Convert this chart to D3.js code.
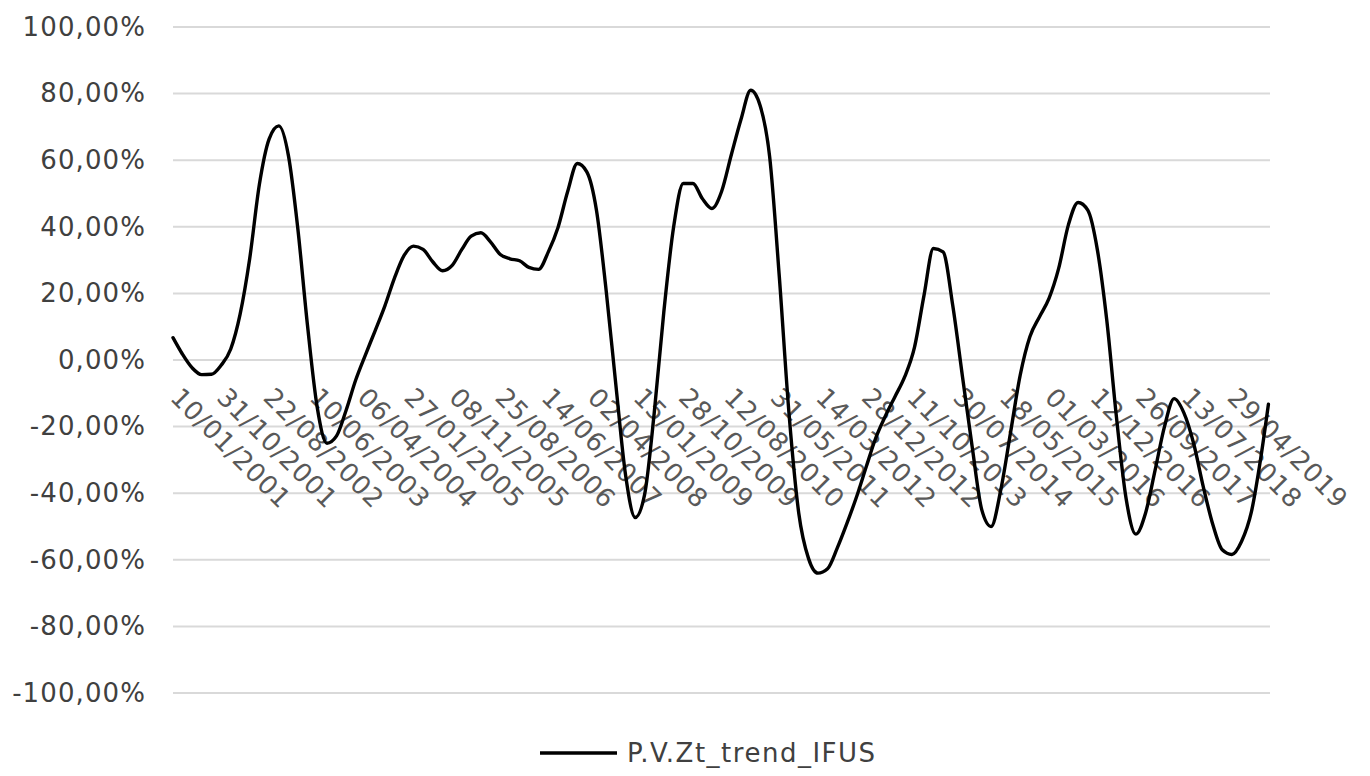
<!DOCTYPE html>
<html>
<head>
<meta charset="utf-8">
<script src="https://cdn.jsdelivr.net/npm/d3@7"></script>
<style>
  html, body { margin: 0; padding: 0; background: #ffffff; }
  svg { display: block; }
  text { font-family: "DejaVu Sans", Verdana, sans-serif; }
</style>
</head>
<body>
<svg id="chart" width="1370" height="776"></svg>
<script>
// ---- data ----
const seriesName = "P.V.Zt_trend_IFUS";

const yTickValues = [-100, -80, -60, -40, -20, 0, 20, 40, 60, 80, 100];

const xLabelDates = [
  "10/01/2001", "31/10/2001", "22/08/2002", "10/06/2003", "06/04/2004",
  "27/01/2005", "08/11/2005", "25/08/2006", "14/06/2007", "02/04/2008",
  "15/01/2009", "28/10/2009", "12/08/2010", "31/05/2011", "14/03/2012",
  "28/12/2012", "11/10/2013", "30/07/2014", "18/05/2015", "01/03/2016",
  "12/12/2016", "26/09/2017", "13/07/2018", "29/04/2019"
];

// trend value (%) by date
const trendSeries = [
  ["2001-01-01", 6.7], ["2001-03-01", 1.8], ["2001-05-01", -2.3], ["2001-07-01", -4.4], ["2001-09-01", -4.3], ["2001-11-01", -1.6],
  ["2002-01-01", 3.3], ["2002-03-01", 13.7], ["2002-05-01", 30.5], ["2002-07-01", 52.7], ["2002-09-01", 66.4], ["2002-11-01", 70.3],
  ["2003-01-01", 61.3], ["2003-03-01", 39.5], ["2003-05-01", 10.5], ["2003-07-01", -14.0], ["2003-09-01", -25.0], ["2003-11-01", -22.8],
  ["2004-01-01", -15.0], ["2004-03-01", -6.0], ["2004-05-01", 1.5], ["2004-07-01", 8.7], ["2004-09-01", 16.2], ["2004-11-01", 24.6],
  ["2005-01-01", 31.4], ["2005-03-01", 34.2], ["2005-05-01", 33.2], ["2005-07-01", 29.5], ["2005-09-01", 26.8], ["2005-11-01", 28.4],
  ["2006-01-01", 33.2], ["2006-03-01", 37.2], ["2006-05-01", 38.2], ["2006-07-01", 35.5], ["2006-09-01", 31.7], ["2006-11-01", 30.4],
  ["2007-01-01", 29.8], ["2007-03-01", 27.8], ["2007-05-01", 27.2], ["2007-07-01", 32.4], ["2007-09-01", 39.8], ["2007-11-01", 50.6],
  ["2008-01-01", 59.0], ["2008-03-01", 56.5], ["2008-05-01", 45.0], ["2008-07-01", 21.0], ["2008-09-01", -7.6], ["2008-11-01", -34.5],
  ["2009-01-01", -47.3], ["2009-03-01", -40.5], ["2009-05-01", -16.0], ["2009-07-01", 14.5], ["2009-09-01", 40.0], ["2009-11-01", 53.0],
  ["2010-01-01", 53.0], ["2010-03-01", 48.5], ["2010-05-01", 45.5], ["2010-07-01", 50.6], ["2010-09-01", 61.7], ["2010-11-01", 72.3],
  ["2011-01-01", 81.0], ["2011-03-01", 76.5], ["2011-05-01", 61.0], ["2011-07-01", 25.0], ["2011-09-01", -16.5], ["2011-11-01", -46.0],
  ["2012-01-01", -59.5], ["2012-03-01", -64.0], ["2012-05-01", -62.7], ["2012-07-01", -56.5], ["2012-09-01", -49.0], ["2012-11-01", -41.0],
  ["2013-01-01", -32.0], ["2013-03-01", -23.5], ["2013-05-01", -16.9], ["2013-07-01", -11.0], ["2013-09-01", -5.0], ["2013-11-01", 3.7],
  ["2014-01-01", 19.5], ["2014-03-01", 33.5], ["2014-05-01", 32.5], ["2014-07-01", 16.5], ["2014-09-01", -5.0], ["2014-11-01", -26.0],
  ["2015-01-01", -45.0], ["2015-03-01", -50.0], ["2015-05-01", -39.0], ["2015-07-01", -22.0], ["2015-09-01", -4.5], ["2015-11-01", 7.0],
  ["2016-01-01", 13.0], ["2016-03-01", 18.5], ["2016-05-01", 27.5], ["2016-07-01", 40.5], ["2016-09-01", 47.3], ["2016-11-01", 45.0],
  ["2017-01-01", 33.0], ["2017-03-01", 12.0], ["2017-05-01", -17.0], ["2017-07-01", -41.5], ["2017-09-01", -52.3], ["2017-11-01", -46.0],
  ["2018-01-01", -33.0], ["2018-03-01", -20.0], ["2018-05-01", -11.6], ["2018-07-01", -15.8], ["2018-09-01", -25.0], ["2018-11-01", -38.0],
  ["2019-01-01", -49.5], ["2019-03-01", -57.0], ["2019-05-01", -58.4], ["2019-07-01", -54.5], ["2019-09-01", -45.7], ["2019-11-01", -29.0],
  ["2019-12-18", -13.3]
];

// ---- layout ----
const svg = d3.select("#chart");
const plotLeft = 173, plotRight = 1270, plotTop = 27, plotBottom = 693;
const textColor = "#404040";
const fontSize = 26;
const fontStack = "'DejaVu Sans', Verdana, sans-serif";

const parseISO = d3.timeParse("%Y-%m-%d");
const parseDMY = d3.timeParse("%d/%m/%Y");

const x = d3.scaleTime()
  .domain([parseISO("2001-01-01"), parseISO("2019-12-28")])
  .range([plotLeft, plotRight]);

const y = d3.scaleLinear()
  .domain([-100, 100])
  .range([plotBottom, plotTop]);

const pctFormat = v => v.toFixed(2).replace(".", ",") + "%";

// horizontal gridlines
svg.append("g")
  .selectAll("line")
  .data(yTickValues)
  .join("line")
  .attr("x1", plotLeft)
  .attr("x2", plotRight)
  .attr("y1", d => y(d))
  .attr("y2", d => y(d))
  .attr("stroke", "#d9d9d9")
  .attr("stroke-width", 2);

// value axis
const yAxis = svg.append("g")
  .attr("transform", `translate(${plotLeft},0)`)
  .call(d3.axisLeft(y).tickValues(yTickValues).tickFormat(pctFormat).tickSize(0).tickPadding(27));
yAxis.select(".domain").remove();
yAxis.selectAll("text")
  .attr("fill", textColor)
  .style("font-size", fontSize + "px")
  .style("letter-spacing", "1.1px")
  .style("font-family", fontStack);

// date axis with 45° labels below the zero line
const xAxis = svg.append("g")
  .attr("transform", `translate(0,${y(0)})`)
  .call(d3.axisBottom(x)
    .tickValues(xLabelDates.map(parseDMY))
    .tickFormat(d3.timeFormat("%d/%m/%Y"))
    .tickSize(0));
xAxis.select(".domain").remove();
xAxis.selectAll("text")
  .attr("x", -6)
  .attr("y", 39)
  .attr("dy", 0)
  .attr("text-anchor", "start")
  .attr("transform", "rotate(45,-6,39)")
  .attr("fill", "#595959")
  .style("font-size", fontSize + "px")
  .style("letter-spacing", "0.7px")
  .style("font-family", fontStack);

// series line
const line = d3.line()
  .x(d => x(parseISO(d[0])))
  .y(d => y(d[1]))
  .curve(d3.curveMonotoneX);

svg.append("path")
  .datum(trendSeries)
  .attr("d", line)
  .attr("fill", "none")
  .attr("stroke", "#000000")
  .attr("stroke-width", 3.4)
  .attr("stroke-linejoin", "round")
  .attr("stroke-linecap", "round");

// legend
const legend = svg.append("g").attr("transform", "translate(540,753)");
legend.append("line")
  .attr("x1", 0).attr("x2", 77)
  .attr("y1", 0).attr("y2", 0)
  .attr("stroke", "#000000")
  .attr("stroke-width", 3.5);
legend.append("text")
  .attr("x", 87)
  .attr("y", 0)
  .attr("dy", "0.35em")
  .attr("fill", textColor)
  .style("font-size", fontSize + "px")
  .style("letter-spacing", "1.5px")
  .style("font-family", fontStack)
  .text(seriesName);
</script>
</body>
</html>
